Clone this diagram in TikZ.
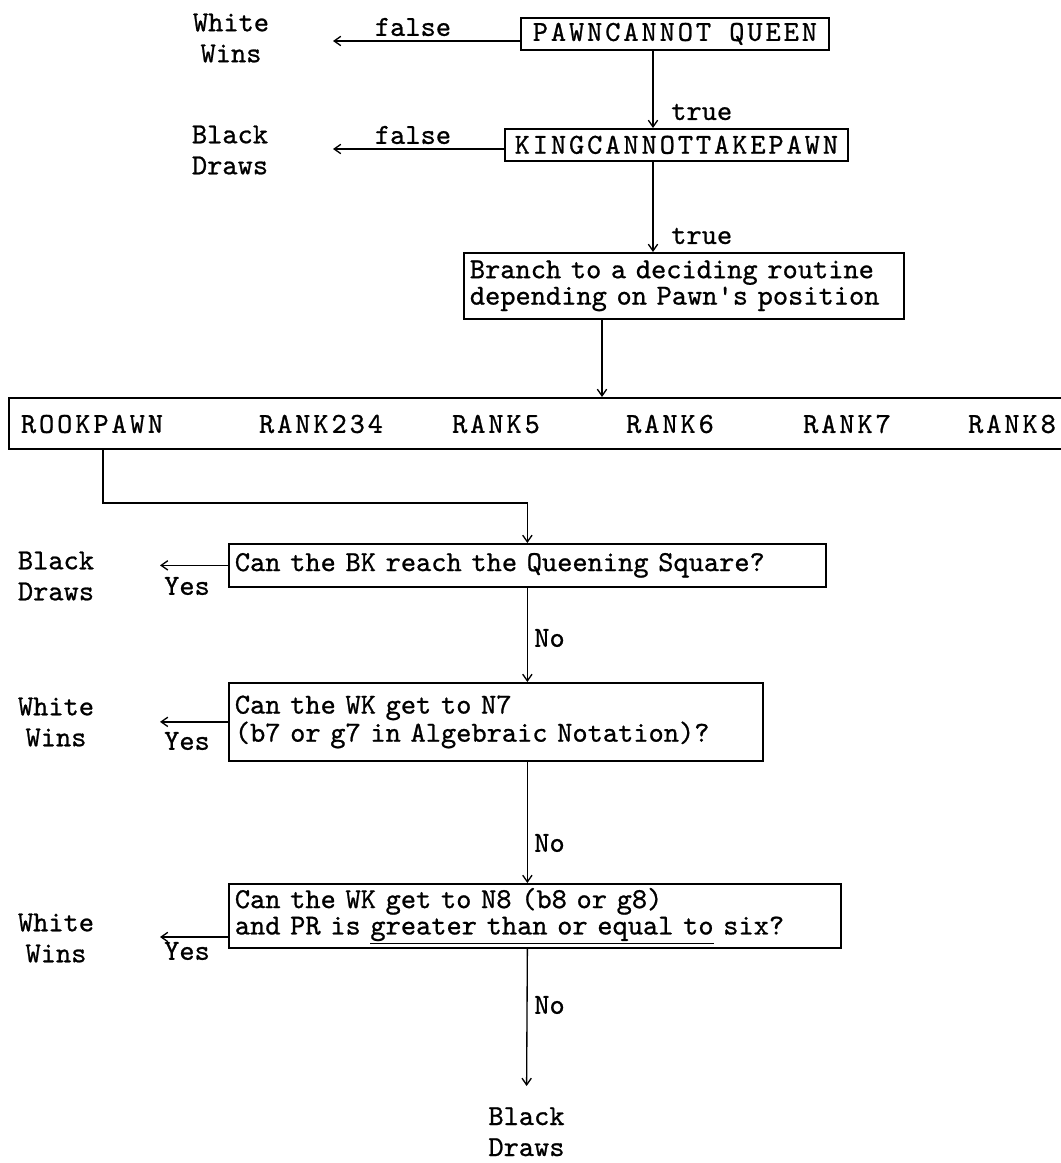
\documentclass[tikz,border=0pt]{standalone}
\usepackage{fontspec}
\usetikzlibrary{arrows.meta}
\newfontfamily\twfont{lmmono10-regular.otf}[FakeBold=0.8]
\newfontfamily\twspaced{lmmono10-regular.otf}[LetterSpace=10,FakeBold=0.8]
\setlength{\lineskiplimit}{-8pt}

\begin{document}
\begin{tikzpicture}[x=0.75pt,y=0.75pt,yscale=-1,xscale=1,
    tw/.style={font=\twfont\fontsize{21.75}{23.25}\selectfont},
    box/.style={draw,line width=1.3pt,inner xsep=4.5pt,inner ysep=0pt,anchor=north west,font=\twfont\fontsize{21.75}{19.8}\selectfont},
    capbox/.style={box,font=\twspaced\fontsize{21.75}{19.8}\selectfont},
    rank/.style={font=\twspaced\fontsize{21.75}{19.8}\selectfont,inner sep=0pt},
    lbl/.style={tw,inner sep=0.75pt},
    outcome/.style={tw,align=center,inner sep=0.75pt},
    flow/.style={line width=1pt,-{Straight Barb[length=5pt,width=7pt]}}]
        \useasboundingbox (0,0) rectangle (1060,1163);

        %Coordinates
        \coordinate (spine) at (653,0);
        \coordinate (drop) at (602,0);
        \coordinate (elbow) at (103,503);
        \coordinate (yesx) at (160,0);
        \coordinate (tipW1) at (333,41);
        \coordinate (tipB1) at (333,149);
        \coordinate (tipY3) at (160,937);

        %Shape: Box
        \node [capbox,minimum width=231pt,minimum height=24pt] (pawnq) at (520,17) {PAWNCANNOT QUEEN};
        %Shape: Box
        \node [capbox,minimum width=257.25pt,minimum height=24pt] (kingtake) at (504,128) {KINGCANNOTTAKEPAWN};
        %Shape: Box
        \node [box,text width=321pt,align=left,minimum height=49.5pt] (branch) at (463,252) {Branch to a deciding routine\\depending on Pawn's position};
        %Shape: Bar
        \node [box,line width=1.6pt,minimum width=800pt,minimum height=38.25pt] (ranks) at (8,397) {};
        %Shape: Box
        \node [box,text width=438.75pt,align=left,minimum height=32.25pt] (queen) at (228,543) {Can the BK reach the Queening Square?};
        %Shape: Box
        \node [box,text width=391.5pt,align=left,minimum height=58.5pt] (n7box) at (228,682) {Can the WK get to N7\\(b7 or g7 in Algebraic Notation)?};
        %Shape: Box
        \node [box,text width=450pt,align=left,minimum height=48pt] (n8box) at (228,883) {Can the WK get to N8 (b8 or g8)\\and PR is \underline{greater than or equal to} six?};

        % Text Node
        \node [rank] (rookpawn) at (92,424) {ROOKPAWN};
        \node [rank] (rank234) at (321,424) {RANK234};
        \node [rank] (rank5) at (496,424) {RANK5};
        \node [rank] (rank6) at (670,424) {RANK6};
        \node [rank] (rank7) at (847,424) {RANK7};
        \node [rank] (rank8) at (1012,424) {RANK8};

        % Text Node
        \node [outcome] (whiteA) at (231,38) {White\\Wins};
        \node [outcome] (blackA) at (230,150) {Black\\Draws};
        \node [outcome] (blackB) at (56,576) {Black\\Draws};
        \node [outcome] (whiteB) at (56,722) {White\\Wins};
        \node [outcome] (whiteC) at (56,938) {White\\Wins};
        \node [outcome,anchor=north] (blackC) at (526.5,1106) {Black\\Draws};

        % Text Node
        \node [lbl] (falseA) at (413,27) {false};
        \node [lbl] (falseB) at (413,135) {false};
        \node [lbl,anchor=west] (trueA) at (670,112) {true};
        \node [lbl,anchor=west] (trueB) at (670,236) {true};
        \node [lbl] (yesA) at (187,586) {Yes};
        \node [lbl] (yesB) at (187,741) {Yes};
        \node [lbl] (yesC) at (187,951) {Yes};
        \node [lbl,anchor=west] (noA) at (533,638) {No};
        \node [lbl,anchor=west] (noB) at (533,843) {No};
        \node [lbl,anchor=west] (noC) at (533,1005) {No};

        %Straight Lines
        \draw [flow] (pawnq.west |- tipW1) -- (tipW1);
        \draw [flow] (kingtake.west |- tipB1) -- (tipB1);
        \draw [flow] (pawnq.south -| spine) -- (kingtake.north -| spine);
        \draw [flow] (kingtake.south -| spine) -- (branch.north -| spine);
        \draw [flow] (branch.south -| drop) -- (ranks.north -| drop);
        \draw [flow] (ranks.south -| elbow) -- (elbow) -| (queen.north);
        \draw [flow] (queen.west) -- (queen.west -| yesx);
        \draw [flow] (queen.south) -- (n7box.north -| queen.south);
        \draw [flow] (n7box.west) -- (n7box.west -| yesx);
        \draw [flow] (n7box.south -| queen.south) -- (n8box.north -| queen.south);
        \draw [flow] (n8box.west |- tipY3) -- (tipY3);
        \draw [flow,shorten >=15pt] (n8box.south -| queen.south) -- (blackC.north);
\end{tikzpicture}
\end{document}
